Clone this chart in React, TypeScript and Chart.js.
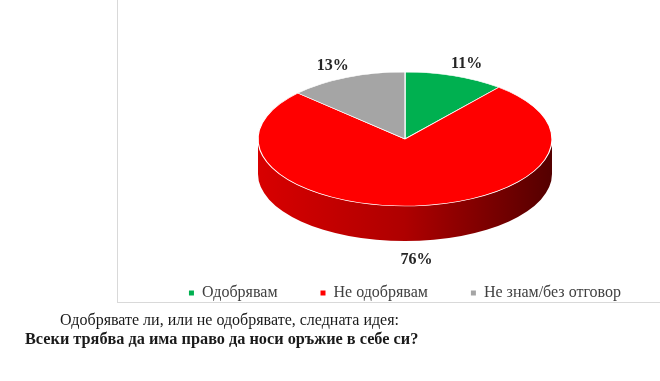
import React, { useEffect, useRef } from 'react';
import { Chart, registerables } from 'chart.js';

Chart.register(...registerables);

const categories = ['Одобрявам', 'Не одобрявам', 'Не знам/без отговор'];
const values = [11, 76, 13];
const sliceColors = ['#00b050', '#ff0000', '#a5a5a5'];
const sideGradients = [
  ['#00a04a', '#008a3e', '#004a20'],
  ['#d80000', '#ae0000', '#540000'],
  ['#9a9a9a', '#8a8a8a', '#505050'],
];
const questionText = 'Одобрявате ли, или не одобрявате, следната идея:';
const statementText = 'Всеки трябва да има право да носи оръжие в себе си?';

const SERIF = "'Liberation Serif', 'Times New Roman', serif";
const TILT = 0.456;
const DEPTH = 35;
const PIE_CY = 139;
const LABEL_DX = 35;
const LABEL_DY_BACK = 13;
const LABEL_DY_FRONT = 19;

const pie3d = {
  id: 'pie3d',
  beforeDatasetsDraw(chart: any) {
    const ctx = chart.ctx as CanvasRenderingContext2D;
    const arcs = chart.getDatasetMeta(0).data as any[];
    const { x, y, outerRadius: R } = arcs[0];
    const ry = R * TILT;
    arcs.forEach((arc, i) => {
      const a0 = Math.max(arc.startAngle, 0);
      const a1 = Math.min(arc.endAngle, Math.PI);
      if (a1 <= a0) return;
      const g = ctx.createLinearGradient(x - R, 0, x + R, 0);
      const st = sideGradients[i];
      g.addColorStop(0, st[0]);
      g.addColorStop(0.5, st[1]);
      g.addColorStop(1, st[2]);
      ctx.save();
      ctx.beginPath();
      ctx.ellipse(x, PIE_CY, R, ry, 0, a0, a1, false);
      ctx.ellipse(x, PIE_CY + DEPTH, R, ry, 0, a1, a0, true);
      ctx.closePath();
      ctx.fillStyle = g;
      ctx.fill();
      ctx.restore();
    });
    ctx.save();
    ctx.translate(0, PIE_CY);
    ctx.scale(1, TILT);
    ctx.translate(0, -y);
  },
  afterDatasetsDraw(chart: any) {
    const ctx = chart.ctx as CanvasRenderingContext2D;
    ctx.restore();
    const arcs = chart.getDatasetMeta(0).data as any[];
    const data = chart.data.datasets[0].data as number[];
    ctx.save();
    ctx.font = `bold 16px ${SERIF}`;
    ctx.fillStyle = '#262626';
    ctx.textAlign = 'center';
    ctx.textBaseline = 'middle';
    arcs.forEach((arc, i) => {
      const R = arc.outerRadius;
      const m = (arc.startAngle + arc.endAngle) / 2;
      const c = Math.cos(m);
      const s = Math.sin(m);
      const front = s > 0;
      const lx = arc.x + (R + LABEL_DX) * c;
      const ly = PIE_CY + (R * TILT + (front ? LABEL_DY_FRONT : LABEL_DY_BACK)) * s + (front ? DEPTH : 0);
      ctx.fillText(`${data[i]}%`, lx, ly);
    });
    ctx.restore();
  },
};

export default function App() {
  const canvasRef = useRef<HTMLCanvasElement | null>(null);

  useEffect(() => {
    if (!canvasRef.current) return;
    const chart = new Chart(canvasRef.current, {
      type: 'pie',
      data: {
        labels: categories,
        datasets: [
          {
            data: values,
            backgroundColor: sliceColors,
            borderColor: '#ffffff',
            borderWidth: 1.2,
            radius: 147,
            clip: false,
          } as any,
        ],
      },
      options: {
        responsive: false,
        animation: false,
        devicePixelRatio: 1,
        layout: { padding: 0 },
        plugins: {
          tooltip: { enabled: false },
          legend: {
            position: 'bottom',
            labels: {
              boxWidth: 5,
              boxHeight: 5,
              padding: 43,
              color: '#404040',
              font: { family: SERIF, size: 16 },
              generateLabels: (c: any) => {
                const items = (Chart as any).overrides.pie.plugins.legend.labels.generateLabels(c);
                return items.map((it: any) => ({ ...it, lineWidth: 0, strokeStyle: it.fillStyle }));
              },
            },
          },
        },
      } as any,
      plugins: [pie3d as any],
    });
    return () => chart.destroy();
  }, []);

  return (
    <div
      style={{
        position: 'fixed',
        left: 0,
        top: 0,
        width: 660,
        height: 381,
        overflow: 'hidden',
        background: '#ffffff',
      }}
    >
      <div
        style={{
          position: 'absolute',
          left: 117,
          top: -1,
          width: 600,
          height: 304,
          boxSizing: 'border-box',
          borderLeft: '1px solid #d9d9d9',
          borderBottom: '1px solid #d9d9d9',
        }}
      />
      <canvas
        ref={canvasRef}
        width={576}
        height={311}
        style={{ position: 'absolute', left: 117, top: 0, width: 576, height: 311 }}
      />
      <div
        style={{
          position: 'absolute',
          left: 60,
          top: 310,
          fontFamily: SERIF,
          fontSize: 16,
          lineHeight: '19px',
          color: '#1a1a1a',
          whiteSpace: 'nowrap',
        }}
      >
        {questionText}
      </div>
      <div
        style={{
          position: 'absolute',
          left: 25,
          top: 329,
          fontFamily: SERIF,
          fontSize: 16.3,
          lineHeight: '19px',
          fontWeight: 'bold',
          color: '#1a1a1a',
          whiteSpace: 'nowrap',
        }}
      >
        {statementText}
      </div>
    </div>
  );
}
